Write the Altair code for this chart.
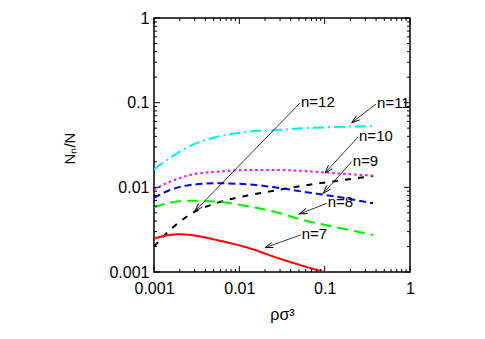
import altair as alt
import pandas as pd
import numpy as np

# ---- curve data ----
x_vals = [0.001, 0.00154, 0.00264, 0.00543, 0.01334, 0.0284, 0.0557, 0.1384, 0.37]
n11 = [0.0164, 0.0222, 0.0308, 0.0393, 0.0456, 0.0475, 0.0498, 0.0516, 0.0530]
n10 = [0.0094, 0.01166, 0.01398, 0.0153, 0.01602, 0.01602, 0.01559, 0.01464, 0.01372]
n9 = [0.0075, 0.0093, 0.01065, 0.01116, 0.0108, 0.0099, 0.00888, 0.00775, 0.00648]
n8 = [0.0058, 0.00658, 0.00695, 0.00677, 0.00591, 0.00502, 0.00411, 0.00337, 0.00274]
n12 = [0.0020, 0.00313, 0.00478, 0.00653, 0.00812, 0.0093, 0.01045, 0.01188, 0.01361]
n7_x = [0.001, 0.00154, 0.002, 0.00264, 0.00543, 0.01334, 0.0284, 0.0557, 0.1]
n7 = [0.00249, 0.00274, 0.00279, 0.00274, 0.00239, 0.0019, 0.00146, 0.00118, 0.001]

# ---- arrow annotations ----
ann_labels = ["n=12", "n=11", "n=10", "n=9", "n=8", "n=7"]
ann_x0 = [0.0514, 0.40, 0.246, 0.2075, 0.1057, 0.0524]
ann_y0 = [0.099, 0.0964, 0.0393, 0.0201, 0.00647, 0.00274]
ann_x1 = [0.00302, 0.2075, 0.1009, 0.0964, 0.0505, 0.02]
ann_y1 = [0.00525, 0.058, 0.01476, 0.0085, 0.00484, 0.00194]

# ---- axis ticks ----
major = [0.001, 0.01, 0.1, 1]
minor = [m * d for d in [0.001, 0.01, 0.1] for m in range(2, 10)]

W, H = 256, 254
FONT = "Liberation Sans"

xscale = alt.Scale(type="log", domain=[0.001, 1], nice=False)
yscale = alt.Scale(type="log", domain=[0.001, 1], nice=False)

xaxis = alt.Axis(values=major, format="~g", ticks=False, domain=False, grid=False,
                 labelFontSize=16, labelPadding=8, labelFlush=False, labelOverlap=False,
                 labelFont=FONT, labelColor="black",
                 title="ρσ³", titleFontSize=16, titleFont=FONT, titleFontWeight="normal",
                 titleColor="black", titleY=42, titleBaseline="middle")
yaxis = alt.Axis(values=major, format="~g", ticks=False, domain=False, grid=False,
                 labelFontSize=16, labelPadding=5, labelFlush=False, labelOverlap=False,
                 labelFont=FONT, labelColor="black",
                 title="Nₙ/N", titleFontSize=15, titleFont=FONT, titleFontWeight="normal",
                 titleColor="black", titleX=-85, titleY=130, titleBaseline="middle",
                 titleAngle=270)


def X(field):
    return alt.X(field, scale=xscale, axis=xaxis)


def Y(field):
    return alt.Y(field, scale=yscale, axis=yaxis)


series = [
    ("n=12", x_vals, n12, "black", [6, 7]),
    ("n=11", x_vals, n11, "#00eeee", [11, 4, 2, 4]),
    ("n=10", x_vals, n10, "#ff00ff", [2.5, 3]),
    ("n=9", x_vals, n9, "#0000ff", [7, 4]),
    ("n=8", x_vals, n8, "#00ee00", [11, 6]),
    ("n=7", n7_x, n7, "#ff0000", [1, 0]),
]

layers = []
for name, xs, ys, col, dash in series:
    df = pd.DataFrame({"x": xs, "y": ys})
    layers.append(
        alt.Chart(df).mark_line(color=col, strokeDash=dash, strokeWidth=2,
                                interpolate="monotone", clip=True)
        .encode(x=X("x:Q"), y=Y("y:Q"))
    )

# tick marks inside the frame on all four sides
maj_df = pd.DataFrame({"v": major})
min_df = pd.DataFrame({"v": minor})
for df, ln in [(maj_df, 6), (min_df, 3)]:
    layers.append(alt.Chart(df).mark_rule(color="black", strokeWidth=1).encode(
        x=X("v:Q"), y=alt.value(H), y2=alt.value(H - ln)))
    layers.append(alt.Chart(df).mark_rule(color="black", strokeWidth=1).encode(
        x=X("v:Q"), y=alt.value(0), y2=alt.value(ln)))
    layers.append(alt.Chart(df).mark_rule(color="black", strokeWidth=1).encode(
        y=Y("v:Q"), x=alt.value(0), x2=alt.value(ln)))
    layers.append(alt.Chart(df).mark_rule(color="black", strokeWidth=1).encode(
        y=Y("v:Q"), x=alt.value(W), x2=alt.value(W - ln)))

# arrow head angles in screen space
def px(v):
    return W * (np.log10(v) + 3) / 3


def py(v):
    return -H * np.log10(v) / 3


angles = []
for a, b, c, d in zip(ann_x0, ann_y0, ann_x1, ann_y1):
    ang = np.degrees(np.arctan2(py(d) - py(b), px(c) - px(a))) % 360
    angles.append(float(ang))

ann = pd.DataFrame({"label": ann_labels, "x0": ann_x0, "y0": ann_y0,
                    "x1": ann_x1, "y1": ann_y1, "ang": angles})

layers.append(alt.Chart(ann).mark_rule(color="black", strokeWidth=0.8).encode(
    x=X("x0:Q"), y=Y("y0:Q"), x2="x1:Q", y2="y1:Q"))
layers.append(alt.Chart(ann).mark_point(shape="M-1,-0.33L0,0L-1,0.33", size=256,
                                        color="black", strokeWidth=0.9, opacity=1,
                                        filled=False).encode(
    x=X("x1:Q"), y=Y("y1:Q"), angle=alt.Angle("ang:Q", scale=None)))
layers.append(alt.Chart(ann).mark_text(align="left", baseline="middle", dx=1, dy=-1,
                                       fontSize=15, font=FONT, color="black").encode(
    x=X("x0:Q"), y=Y("y0:Q"), text="label:N"))

chart = alt.layer(*layers).properties(
    width=W, height=H,
    autosize=alt.AutoSizeParams(type="none"),
    padding={"left": 146, "top": 10, "right": 67, "bottom": 55},
).configure_view(stroke="black", strokeWidth=1.5)

chart.save("out.html", embed_options={"renderer": "svg", "actions": False})
